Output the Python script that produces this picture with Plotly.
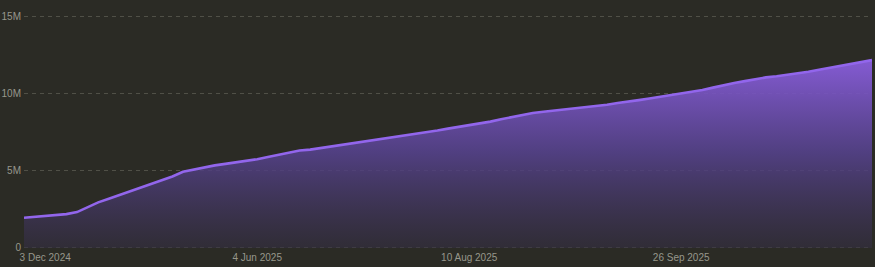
import plotly.graph_objects as go

dates = [
    "2024-11-15", "2024-11-24", "2024-12-03", "2024-12-12", "2024-12-21", "2024-12-30",
    "2025-01-08", "2025-01-17", "2025-01-26", "2025-02-04", "2025-02-13", "2025-02-22",
    "2025-03-03", "2025-03-12", "2025-03-21", "2025-03-30", "2025-04-08", "2025-04-17",
    "2025-04-26", "2025-05-06", "2025-05-16", "2025-05-26", "2025-06-04", "2025-06-07",
    "2025-06-10", "2025-06-14", "2025-06-17", "2025-06-20", "2025-06-24", "2025-06-27",
    "2025-06-30", "2025-07-04", "2025-07-07", "2025-07-10", "2025-07-14", "2025-07-17",
    "2025-07-20", "2025-07-24", "2025-07-27", "2025-07-30", "2025-08-03", "2025-08-06",
    "2025-08-10", "2025-08-12", "2025-08-15", "2025-08-17", "2025-08-19", "2025-08-22",
    "2025-08-24", "2025-08-26", "2025-08-29", "2025-08-31", "2025-09-02", "2025-09-05",
    "2025-09-07", "2025-09-09", "2025-09-12", "2025-09-14", "2025-09-16", "2025-09-19",
    "2025-09-21", "2025-09-23", "2025-09-26", "2025-09-28", "2025-09-30", "2025-10-03",
    "2025-10-05", "2025-10-07", "2025-10-10", "2025-10-12", "2025-10-14", "2025-10-17",
    "2025-10-19", "2025-10-21", "2025-10-24", "2025-10-26", "2025-10-28", "2025-10-31",
    "2025-11-02", "2025-11-04", "2025-11-07",
]

values_m = [
    1.96, 2.02, 2.08, 2.13, 2.19, 2.32, 2.62, 2.95, 3.19, 3.42,
    3.65, 3.89, 4.13, 4.37, 4.62, 4.93, 5.08, 5.21, 5.34, 5.44,
    5.54, 5.63, 5.74, 5.88, 6.01, 6.14, 6.30, 6.36, 6.46, 6.57,
    6.69, 6.80, 6.88, 6.97, 7.07, 7.16, 7.26, 7.37, 7.49, 7.60,
    7.72, 7.83, 7.95, 8.06, 8.17, 8.32, 8.46, 8.61, 8.73, 8.81,
    8.88, 8.96, 9.03, 9.11, 9.18, 9.26, 9.37, 9.45, 9.56, 9.67,
    9.78, 9.90, 10.01, 10.11, 10.21, 10.37, 10.54, 10.67, 10.79, 10.92,
    11.03, 11.11, 11.20, 11.28, 11.40, 11.52, 11.65, 11.77, 11.90, 12.02,
    12.15,
]
values = [v * 1_000_000 for v in values_m]

x_tick_dates = ["2024-12-03", "2025-06-04", "2025-08-10", "2025-09-26"]
x_tick_labels = ["3 Dec 2024", "4 Jun 2025", "10 Aug 2025", "26 Sep 2025"]
y_tick_vals = [0, 5_000_000, 10_000_000, 15_000_000]
y_tick_labels = ["0", "5M", "10M", "15M"]

BG = "#2b2b25"
GRID = "#505047"
TXT = "#97978c"
FONT = "Liberation Sans, Arial, sans-serif"

fig = go.Figure()
fig.add_trace(go.Scatter(
    x=dates, y=values, mode="lines",
    line=dict(color="#9266ec", width=2.6),
    fill="tozeroy",
    fillgradient=dict(
        type="vertical",
        colorscale=[[0, "rgba(52,46,66,0.6)"], [0.5, "rgba(86,66,142,0.86)"], [1, "rgba(138,94,222,0.94)"]],
    ),
    hoverinfo="skip",
))

fig.update_layout(
    width=875, height=267,
    margin=dict(l=24, r=3, t=14, b=17),
    paper_bgcolor=BG, plot_bgcolor=BG,
    showlegend=False,
    font=dict(family=FONT, size=10, color=TXT),
    xaxis=dict(
        type="category", range=[0, len(dates) - 1],
        tickvals=x_tick_dates, ticktext=x_tick_labels,
        showgrid=False, zeroline=False, showline=False,
        ticks="", ticklen=0, tickfont=dict(family=FONT, size=10, color=TXT),
    ),
    yaxis=dict(
        range=[-130_000, 15_130_000],
        tickvals=y_tick_vals, ticktext=y_tick_labels,
        showgrid=True, gridcolor=GRID, griddash="4px,4px", gridwidth=1,
        zeroline=False, showline=False, ticks="",
        ticklabelstandoff=2, tickfont=dict(family=FONT, size=10, color=TXT),
    ),
)

fig.write_html("out.html")
